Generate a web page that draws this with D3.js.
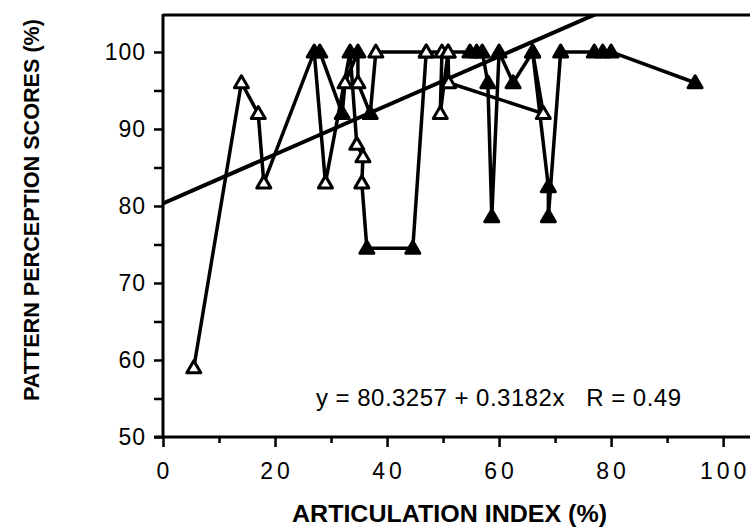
<!DOCTYPE html>
<html>
<head>
<meta charset="utf-8">
<script src="https://d3js.org/d3.v7.min.js"></script>
<style>
  body { margin: 0; background: #fff; }
  text { font-family: "Liberation Sans", Arial, sans-serif; fill: #000; }
  .tick-label { font-size: 23px; }
  .axis-title { font-size: 24px; font-weight: bold; }
</style>
</head>
<body>
<script>
// segment id for each point, in drawing order
var seg    = [0,0,0,0,0,0,0,0,0,0,0,0,0,0,0,0,0,0,0,0,0,0,0,0,0,0,
              1,1,1,1,1,1,1,1,
              2,2,2,2,2,2,2,2,2];
var ai     = [5.5,14,17,18,27,29,33.4,34.6,35.7,35.5,36.4,44.6,47,49.8,49.5,50.9,51,67.9,66,68.8,68.8,71,77,78.5,80,95,
              28,32,32.5,34.8,34.8,37,38,47,
              50.9,54.8,56,57,58,58.7,60,62.5,66];
var score  = [59,96,92,83,100,83,100,88,86.4,83,74.5,74.5,100,100,92,100,96,92,100,82.5,78.6,100,100,100,100,96,
              100,92,96,100,96,92,100,100,
              100,100,100,100,96,78.6,100,96,100];
var filled = [0,0,0,0,1,0,1,0,0,0,1,1,0,0,0,0,0,0,1,1,1,1,1,1,1,1,
              1,1,0,1,0,1,0,0,
              0,1,1,1,1,1,1,1,1];

var xTicks = [0,20,40,60,80,100];
var yTicks = [50,60,70,80,90,100];
var intercept = 80.3257, slope = 0.3182;

var W = 750, H = 532;
var x = d3.scaleLinear().domain([0, 104.8]).range([163, 750]);
var y = d3.scaleLinear().domain([50, 104.8]).range([437, 15]);

var svg = d3.select("body").append("svg").attr("width", W).attr("height", H);

svg.append("clipPath").attr("id", "plot")
  .append("rect").attr("x", 163).attr("y", 15).attr("width", 587).attr("height", 422);

// frame: top line
svg.append("line").attr("x1", 163).attr("x2", 750).attr("y1", 15).attr("y2", 15)
  .attr("stroke", "#000").attr("stroke-width", 3);

// y axis
var yAxis = d3.axisLeft(y).tickValues(d3.range(50, 105, 5)).tickSize(9).tickFormat("");
var gy = svg.append("g").attr("transform", "translate(163,0)").call(yAxis);
gy.select(".domain").attr("stroke-width", 3).attr("d", "M0,437V14");
gy.selectAll(".tick line").attr("stroke-width", 2.5);
svg.selectAll(".ylab").data(yTicks).enter().append("text")
  .attr("class", "tick-label")
  .attr("x", 146).attr("y", function(d) { return y(d) + 8; })
  .attr("text-anchor", "end")
  .style("letter-spacing", "1px")
  .text(function(d) { return d; });

// x axis
var xAxis = d3.axisBottom(x).tickValues(d3.range(0, 101, 10)).tickSize(10).tickFormat("");
var gx = svg.append("g").attr("transform", "translate(0,437)").call(xAxis);
gx.select(".domain").attr("stroke-width", 3).attr("d", "M154,0H750");
gx.selectAll(".tick line").attr("stroke-width", 2.5)
  .attr("y2", function(d) { return d % 20 === 0 ? 10 : 6; });
svg.selectAll(".xlab").data(xTicks).enter().append("text")
  .attr("class", "tick-label")
  .attr("x", function(d) { return x(d) + 2; }).attr("y", 479)
  .attr("text-anchor", "middle")
  .style("letter-spacing", "4px")
  .text(function(d) { return d; });

// axis titles
svg.append("text").attr("class", "axis-title")
  .attr("x", 292).attr("y", 522)
  .attr("textLength", 315).attr("lengthAdjust", "spacingAndGlyphs")
  .text("ARTICULATION INDEX (%)");
svg.append("text").attr("class", "axis-title")
  .attr("transform", "translate(39,210) rotate(-90)")
  .attr("text-anchor", "middle")
  .style("font-size", "21.6px")
  .text("PATTERN PERCEPTION SCORES (%)");

var plot = svg.append("g").attr("clip-path", "url(#plot)");

// regression line
plot.append("line")
  .attr("x1", x(0)).attr("y1", y(intercept))
  .attr("x2", x(100)).attr("y2", y(intercept + slope * 100))
  .attr("stroke", "#000").attr("stroke-width", 4);

// data lines
var pts = ai.map(function(v, i) { return {x: v, y: score[i], s: seg[i], f: filled[i]}; });
var groups = d3.groups(pts, function(d) { return d.s; });
var line = d3.line().x(function(d) { return x(d.x); }).y(function(d) { return y(d.y); });
plot.selectAll(".series").data(groups).enter().append("path")
  .attr("d", function(g) { return line(g[1]); })
  .attr("fill", "none").attr("stroke", "#000").attr("stroke-width", 3.5)
  .attr("stroke-linejoin", "round");

// triangle markers
var tri = "M0,-7L7,5L-7,5Z";
svg.selectAll(".mark").data(pts).enter().append("path")
  .attr("d", tri)
  .attr("transform", function(d) { return "translate(" + x(d.x) + "," + y(d.y) + ")"; })
  .attr("fill", function(d) { return d.f ? "#000" : "#fff"; })
  .attr("stroke", "#000").attr("stroke-width", 3).attr("stroke-linejoin", "round");

// equation
svg.append("text").attr("class", "tick-label")
  .attr("x", 316).attr("y", 406)
  .attr("textLength", 365).attr("lengthAdjust", "spacing")
  .style("font-size", "24px")
  .style("white-space", "pre")
  .text("y = 80.3257 + 0.3182x   R = 0.49");
</script>
</body>
</html>
